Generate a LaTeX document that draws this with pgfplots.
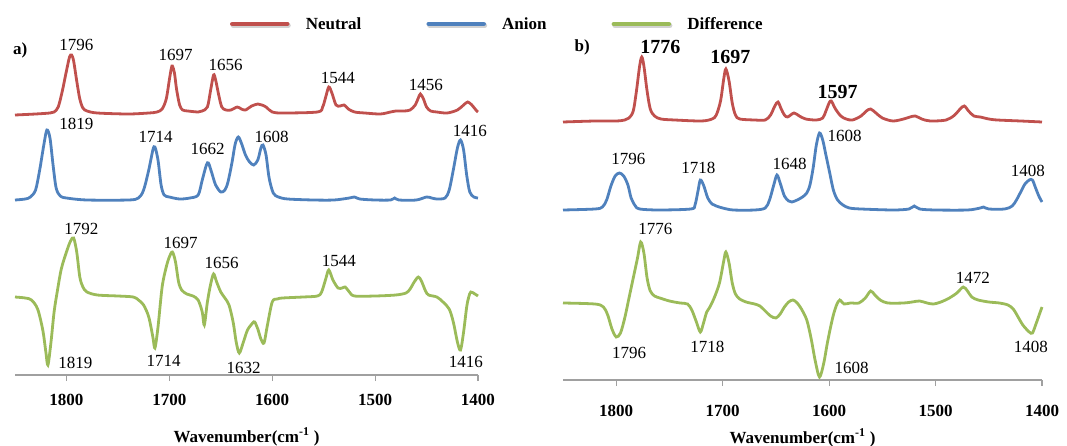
\documentclass[border=0pt]{standalone}
\usepackage{fontspec}
\setmainfont{Liberation Serif}
\usepackage{pgfplots}
\usepackage{pgfplotstable}
\pgfplotsset{compat=1.18}

\definecolor{neutral}{RGB}{192,80,77}
\definecolor{anion}{RGB}{79,129,189}
\definecolor{diffc}{RGB}{155,187,89}
\definecolor{axisgray}{RGB}{160,160,160}

% ---------- a) spectra: wavenumber, intensity above each trace's baseline
\pgfplotstableread{
wn I
1850 -2
1830 -1
1816 0
1812 1
1808 6
1804 22
1800 42
1797 56
1795 58
1793 52
1790 32
1787 14
1784 5
1780 2
1770 0
1740 -1
1720 0
1712 1
1707 4
1703 14
1700 33
1698 45
1697 47
1695 40
1693 24
1690 8
1687 3
1682 2
1672 1
1668 2
1663 6
1660 22
1657 38
1655 33
1652 18
1649 6
1645 3
1640 3
1634 6
1630 4
1626 3
1620 7
1614 9
1610 8
1606 6
1600 1
1590 0
1556 1
1551 6
1548 16
1545 26
1542 20
1538 8
1534 7
1530 8
1526 4
1520 1
1510 0
1495 -1
1485 1
1480 2
1472 2
1466 3
1461 8
1458 15
1456 19
1453 14
1450 6
1446 2
1440 1
1430 0
1420 3
1414 8
1410 11
1406 8
1402 3
1400 1
}\neutralA

\pgfplotstableread{
wn I
1850 0
1840 1
1835 3
1830 10
1826 30
1822 55
1819 70
1816 62
1813 35
1810 12
1806 4
1800 2
1780 0
1740 0
1730 2
1725 10
1720 30
1716 50
1714 53
1711 40
1708 15
1705 5
1700 3
1690 1
1680 2
1672 5
1668 20
1664 35
1662 37
1659 28
1655 15
1650 8
1646 10
1643 18
1639 38
1636 56
1633 63
1630 57
1626 45
1622 38
1618 35
1614 40
1611 52
1609 55
1606 45
1603 22
1599 7
1594 3
1585 1
1560 0
1540 0
1525 2
1520 3
1515 1
1500 0
1485 0
1481 2
1477 0
1460 0
1450 3
1445 2
1440 1
1432 2
1428 10
1424 30
1420 52
1417 60
1414 50
1411 25
1408 8
1404 3
1400 2
}\anionA

\pgfplotstableread{
wn I
1850 0
1840 -1
1834 -3
1828 -12
1823 -33
1820 -55
1818 -68
1815 -45
1812 -15
1809 5
1805 28
1800 45
1796 56
1793 59
1790 45
1787 20
1784 10
1780 5
1770 2
1750 1
1735 0
1730 -3
1725 -8
1720 -20
1716 -40
1714 -51
1711 -30
1707 10
1703 30
1700 40
1697 45
1694 35
1691 15
1688 7
1683 3
1677 1
1672 -3
1668 -15
1666 -28
1663 -5
1660 12
1657 23
1654 15
1650 5
1646 -1
1642 -8
1638 -25
1635 -45
1632 -56
1628 -45
1624 -33
1619 -26
1617 -25
1614 -32
1611 -42
1608 -46
1605 -30
1600 -5
1595 -2
1590 -1
1570 0
1556 1
1552 5
1548 18
1545 27
1541 17
1536 9
1532 9
1529 10
1525 5
1520 1
1500 1
1480 2
1470 4
1466 8
1462 15
1458 20
1455 16
1451 6
1448 2
1440 0
1434 -5
1428 -12
1424 -25
1420 -45
1417 -53
1414 -35
1411 -10
1409 0
1407 5
1403 3
1400 1
}\diffA

% ---------- b) spectra
\pgfplotstableread{
wn I
1850 -1
1820 0
1800 0
1792 1
1788 3
1784 10
1781 30
1778 55
1776 64
1774 55
1771 30
1768 12
1764 5
1758 2
1745 1
1720 0
1710 2
1706 6
1702 20
1699 42
1697 52
1694 40
1691 18
1688 6
1684 2
1670 1
1660 1
1655 6
1651 15
1648 19
1645 12
1642 6
1639 4
1633 8
1628 5
1622 2
1612 1
1606 3
1603 10
1600 18
1598 20
1594 12
1589 5
1584 2
1578 1
1570 5
1565 10
1561 12
1556 8
1550 3
1540 0
1530 2
1524 4
1519 5
1513 2
1505 0
1490 1
1482 6
1477 12
1473 15
1469 10
1464 5
1458 4
1450 2
1442 1
1420 0
1400 -1
}\neutralB

\pgfplotstableread{
wn I
1850 0
1820 1
1813 3
1809 10
1805 24
1801 34
1797 37
1793 34
1789 25
1786 12
1782 4
1778 1
1760 0
1730 1
1726 5
1723 20
1721 30
1718 25
1714 12
1710 6
1706 4
1700 2
1690 0
1670 0
1660 2
1656 10
1652 25
1649 35
1646 27
1642 14
1638 9
1635 8
1630 10
1625 13
1621 17
1618 25
1615 42
1612 65
1609 77
1606 70
1603 55
1600 40
1596 20
1592 10
1587 5
1581 2
1570 1
1540 0
1525 1
1520 4
1515 1
1500 0
1470 0
1458 2
1455 3
1450 1
1435 1
1428 4
1424 10
1420 18
1416 26
1412 30
1409 30
1406 22
1403 14
1400 8
}\anionB

\pgfplotstableread{
wn I
1850 0
1820 -1
1812 -4
1808 -12
1804 -26
1800 -34
1796 -30
1792 -15
1788 5
1784 25
1780 45
1777 61
1774 50
1771 25
1768 12
1764 7
1759 5
1750 2
1740 0
1733 -1
1729 -7
1725 -18
1721 -29
1718 -20
1715 -9
1712 -4
1708 5
1703 20
1699 42
1697 51
1694 40
1691 20
1688 9
1684 4
1678 1
1670 -1
1665 -3
1660 -8
1655 -13
1650 -15
1646 -11
1642 -4
1638 1
1634 3
1630 0
1626 -6
1621 -17
1617 -35
1613 -58
1609 -74
1605 -60
1602 -42
1599 -26
1596 -12
1593 -2
1590 3
1586 -1
1580 0
1572 0
1566 5
1561 12
1557 8
1552 3
1545 0
1530 0
1522 1
1515 2
1508 0
1502 -1
1495 1
1487 5
1480 10
1474 16
1470 12
1466 6
1460 3
1450 1
1440 0
1432 -2
1427 -6
1423 -13
1418 -22
1412 -29
1409 -30
1406 -22
1403 -13
1400 -4
}\diffB

\newcommand{\lblfont}{\fontsize{17}{20}\selectfont}

\tikzset{
  pk/.style={font=\lblfont, inner sep=0pt, anchor=center},
  trace/.style={line width=2.8pt, smooth},
}

\pgfplotsset{
  spectrum/.style={
    scale only axis,
    x dir=reverse,
    xmin=1400, xmax=1850,
    ymin=0,
    axis x line*=bottom,
    axis y line=none,
    clip=false,
    xtick={1400,1500,1600,1700,1800},
    tick align=outside,
    major tick length=6pt,
    x axis line style={axisgray, line width=1.2pt, -},
    xtick style={axisgray, line width=1.2pt},
    /pgf/number format/assume math mode=true,
    /pgf/number format/1000 sep={},
    xlabel={Wavenumber(cm\textsuperscript{-1} )},
    xlabel style={font=\lblfont\bfseries, at={(axis description cs:0.5,0)}, anchor=center},
  },
}

\begin{document}
\begin{tikzpicture}[x=1pt, y=1pt]
\useasboundingbox (0,0) rectangle (1067,445);

% ---------------- panel a
\begin{axis}[spectrum,
  at={(15pt,70pt)}, anchor=south west,
  width=463pt, height=375pt, ymax=375,
  xticklabel style={font=\lblfont\bfseries, yshift=-10pt},
  xlabel style={yshift=-62pt},
  legend columns=3,
  legend style={at={(0.4644,0.936)}, anchor=west, draw=none, fill=none,
    inner sep=0pt, outer sep=0pt, font=\lblfont\bfseries,
    nodes={inner sep=0pt},
    /tikz/every odd column/.append style={column sep=15pt},
    /tikz/every even column/.append style={column sep=65pt}},
  legend image code/.code={
    \draw[black!35, opacity=0.5, line width=5pt, line cap=round] (1pt,-1.5pt) -- (56pt,-1.5pt);
    \draw[#1, line width=4.5pt, line cap=round] (0pt,0pt) -- (55pt,0pt);},
]
\addlegendimage{neutral}\addlegendentry{Neutral}
\addlegendimage{anion}\addlegendentry{Anion}
\addlegendimage{diffc}\addlegendentry{Difference}

\addplot[trace, neutral, no markers] table[x=wn, y expr=\thisrow{I}+262] {\neutralA};
\addplot[trace, anion, no markers] table[x=wn, y expr=\thisrow{I}+175] {\anionA};
\addplot[trace, diffc, no markers] table[x=wn, y expr=\thisrow{I}+78] {\diffA};

\node[pk, font=\lblfont\bfseries] at (axis cs:1845,325) {a)};
\node[pk] at (axis cs:1790.3,330) {1796};
\node[pk] at (axis cs:1693.9,320) {1697};
\node[pk] at (axis cs:1645.3,310) {1656};
\node[pk] at (axis cs:1536.3,297) {1544};
\node[pk] at (axis cs:1450.6,290) {1456};

\node[pk] at (axis cs:1790.3,251) {1819};
\node[pk] at (axis cs:1713.4,238) {1714};
\node[pk] at (axis cs:1662.8,226) {1662};
\node[pk] at (axis cs:1600.5,238) {1608};
\node[pk] at (axis cs:1407.8,244) {1416};

\node[pk] at (axis cs:1785.4,146) {1792};
\node[pk] at (axis cs:1689,132) {1697};
\node[pk] at (axis cs:1649.1,112) {1656};
\node[pk] at (axis cs:1535.3,114) {1544};
\node[pk] at (axis cs:1791.2,12) {1819};
\node[pk] at (axis cs:1705.6,14) {1714};
\node[pk] at (axis cs:1627.7,7) {1632};
\node[pk] at (axis cs:1411.7,13) {1416};
\end{axis}

% ---------------- panel b
\begin{axis}[spectrum,
  at={(563pt,65pt)}, anchor=south west,
  width=479pt, height=380pt, ymax=380,
  xticklabel style={font=\lblfont\bfseries, yshift=-16pt},
  xlabel style={yshift=-58pt},
]
\addplot[trace, neutral, no markers] table[x=wn, y expr=\thisrow{I}+259] {\neutralB};
\addplot[trace, anion, no markers] table[x=wn, y expr=\thisrow{I}+170] {\anionB};
\addplot[trace, diffc, no markers] table[x=wn, y expr=\thisrow{I}+77] {\diffB};

\node[pk, font=\lblfont\bfseries] at (axis cs:1832,333) {b)};
\node[pk, font=\fontsize{20}{24}\selectfont\bfseries] at (axis cs:1758.6,333) {1776};
\node[pk, font=\fontsize{20}{24}\selectfont\bfseries] at (axis cs:1692.7,323) {1697};
\node[pk, font=\fontsize{20}{24}\selectfont\bfseries] at (axis cs:1592,288) {1597};

\node[pk] at (axis cs:1788.7,221) {1796};
\node[pk] at (axis cs:1722.8,212) {1718};
\node[pk] at (axis cs:1637.2,216) {1648};
\node[pk] at (axis cs:1585.4,244) {1608};
\node[pk] at (axis cs:1413.2,209) {1408};

\node[pk] at (axis cs:1763.3,151) {1776};
\node[pk] at (axis cs:1464.9,102) {1472};
\node[pk] at (axis cs:1787.8,27) {1796};
\node[pk] at (axis cs:1714.4,33) {1718};
\node[pk] at (axis cs:1578.8,12) {1608};
\node[pk] at (axis cs:1410.4,33) {1408};
\end{axis}
\end{tikzpicture}
\end{document}
